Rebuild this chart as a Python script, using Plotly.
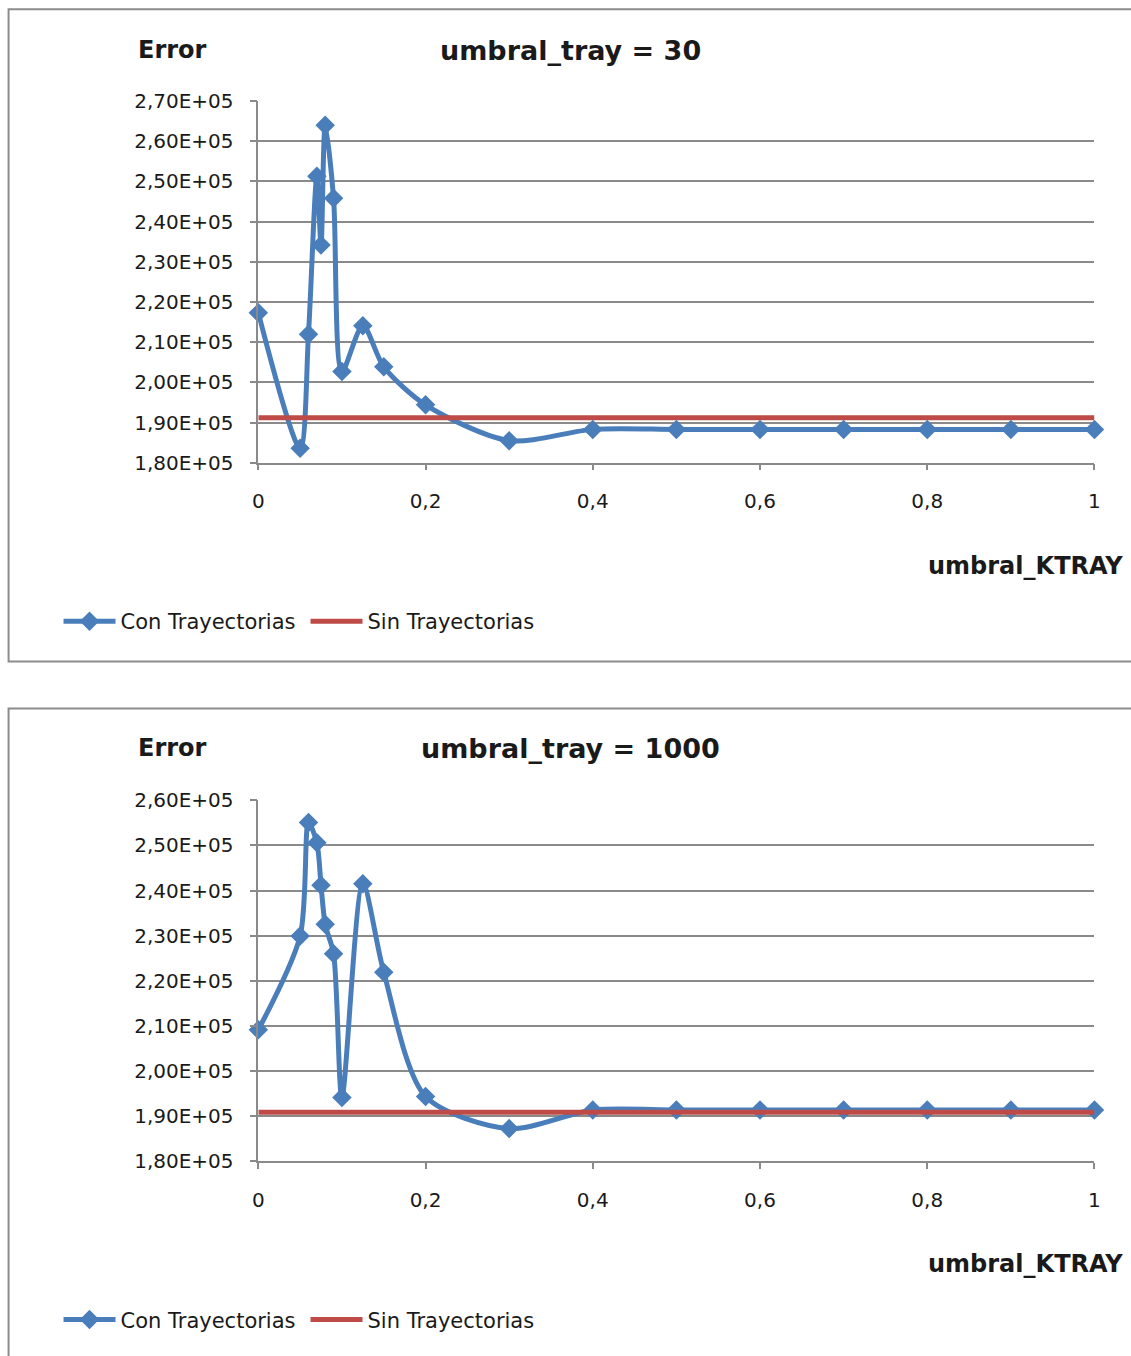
import plotly.graph_objects as go

# ---- data ----
umbral_ktray = [0, 0.05, 0.06, 0.07, 0.075, 0.08, 0.09, 0.1, 0.125, 0.15, 0.2, 0.3, 0.4, 0.5, 0.6, 0.7, 0.8, 0.9, 1]
con_tray_30 = [217300, 183600, 212000, 251300, 234200, 264000, 245800, 202700, 214100, 203900,
               194400, 185500, 188300, 188300, 188300, 188300, 188300, 188300, 188300]
sin_tray_30 = [191200, 191200, 191200, 191200, 191200, 191200, 191200, 191200, 191200, 191200,
               191200, 191200, 191200, 191200, 191200, 191200, 191200, 191200, 191200]
con_tray_1000 = [209100, 229900, 255100, 250600, 241200, 232500, 226000, 194100, 241500, 221900,
                 194300, 187200, 191300, 191300, 191300, 191300, 191300, 191300, 191300]
sin_tray_1000 = [190800, 190800, 190800, 190800, 190800, 190800, 190800, 190800, 190800, 190800,
                 190800, 190800, 190800, 190800, 190800, 190800, 190800, 190800, 190800]

x_tickvals = [0, 0.2, 0.4, 0.6, 0.8, 1]
x_ticktext = ["0", "0,2", "0,4", "0,6", "0,8", "1"]
y_tickvals_30 = [180000, 190000, 200000, 210000, 220000, 230000, 240000, 250000, 260000, 270000]
y_ticktext_30 = ["1,80E+05", "1,90E+05", "2,00E+05", "2,10E+05", "2,20E+05", "2,30E+05",
                 "2,40E+05", "2,50E+05", "2,60E+05", "2,70E+05"]
y_tickvals_1000 = [180000, 190000, 200000, 210000, 220000, 230000, 240000, 250000, 260000]
y_ticktext_1000 = ["1,80E+05", "1,90E+05", "2,00E+05", "2,10E+05", "2,20E+05", "2,30E+05",
                   "2,40E+05", "2,50E+05", "2,60E+05"]

titles = ["umbral_tray = 30", "umbral_tray = 1000"]

# ---- styling ----
OFF = 8
W, H = 1131, 1356
FONT = "DejaVu Sans"
BLUE = "#4A7EBB"
RED = "#BE4B48"
GRID = "#8A8A8A"
TXT = "#1a1a1a"

def px(x):
    return ((x + 3.5) / 0.9904 - OFF) / W

def py(y):
    y = y - 0.0008 * (y - 9) - 0.8
    return 1 - ((y - 3.16) / 0.9825 - OFF) / H

fig = go.Figure()

panels = [
    dict(con=con_tray_30, sin=sin_tray_30, top=101, bot=463, yt=y_tickvals_30, ytt=y_ticktext_30,
         rng=[180000, 270000], box=(7, 9, 1160, 662), off=0, legend="legend"),
    dict(con=con_tray_1000, sin=sin_tray_1000, top=801, bot=1162, yt=y_tickvals_1000, ytt=y_ticktext_1000,
         rng=[180000, 260000], box=(7, 709, 1160, 1400), off=699, legend="legend2"),
]

layout_axes = {}
for i, p in enumerate(panels):
    n = "" if i == 0 else str(i + 1)
    xa, ya = "x" + n, "y" + n
    fig.add_trace(go.Scatter(
        x=umbral_ktray, y=p["con"], xaxis=xa, yaxis=ya, name="Con Trayectorias",
        mode="lines+markers", line=dict(color=BLUE, width=5, shape="spline", smoothing=0.8),
        marker=dict(symbol="diamond", size=15, color=BLUE), cliponaxis=False, legend=p["legend"]))
    fig.add_trace(go.Scatter(
        x=umbral_ktray, y=p["sin"], xaxis=xa, yaxis=ya, name="Sin Trayectorias",
        mode="lines", line=dict(color=RED, width=5), cliponaxis=False, legend=p["legend"]))

    layout_axes["xaxis" + n] = dict(
        domain=[px(257), px(1094)], range=[0, 1], anchor=ya,
        tickvals=x_tickvals, ticktext=x_ticktext, showgrid=False, zeroline=False,
        showline=True, linecolor=GRID, linewidth=1.5, ticks="outside", ticklen=6,
        tickcolor=GRID, tickwidth=1.5, ticklabelstandoff=14,
        tickfont=dict(family=FONT, size=20, color=TXT))
    layout_axes["yaxis" + n] = dict(
        domain=[py(p["bot"]), py(p["top"])], range=p["rng"], anchor=xa,
        tickvals=p["yt"], ticktext=p["ytt"], showgrid=True, gridcolor=GRID, gridwidth=1.5,
        zeroline=False, showline=True, linecolor=GRID, linewidth=1.5, ticks="outside",
        ticklen=7, tickcolor=GRID, tickwidth=1.5, ticklabelstandoff=12,
        tickfont=dict(family=FONT, size=20, color=TXT))

annotations = []
shapes = []
for i, p in enumerate(panels):
    off = p["off"]
    annotations.append(dict(text="<b>Error</b>", x=px(171), y=py(50 + off), xref="paper", yref="paper",
                            showarrow=False, xanchor="center", yanchor="middle",
                            font=dict(family=FONT, size=24, color=TXT)))
    annotations.append(dict(text="<b>" + titles[i] + "</b>", x=px(570), y=py(50 + off), xref="paper",
                            yref="paper", showarrow=False, xanchor="center", yanchor="middle",
                            font=dict(family=FONT, size=27, color=TXT)))
    annotations.append(dict(text="<b>umbral_KTRAY</b>", x=px(1125), y=py(566 + off), xref="paper",
                            yref="paper", showarrow=False, xanchor="right", yanchor="middle",
                            font=dict(family=FONT, size=24, color=TXT)))
    x0, y0, x1, y1 = p["box"]
    shapes.append(dict(type="rect", xref="paper", yref="paper", x0=px(x0), x1=px(x1),
                       y0=py(y1), y1=py(y0), line=dict(color="#8C8C8C", width=2),
                       fillcolor="rgba(0,0,0,0)", layer="below"))

legend_style = dict(orientation="h", xanchor="left", yanchor="middle", bgcolor="rgba(0,0,0,0)",
                    font=dict(family=FONT, size=21, color=TXT), itemwidth=52,
                    entrywidth=180, entrywidthmode="pixels",
                    tracegroupgap=0, itemclick=False)

fig.update_layout(
    width=W, height=H, margin=dict(l=0, r=0, t=0, b=0),
    paper_bgcolor="white", plot_bgcolor="white",
    showlegend=True,
    legend=dict(x=px(57), y=py(622), **legend_style),
    legend2=dict(x=px(57), y=py(1321), **legend_style),
    annotations=annotations, shapes=shapes,
    **layout_axes,
)

fig.write_html("out.html")
